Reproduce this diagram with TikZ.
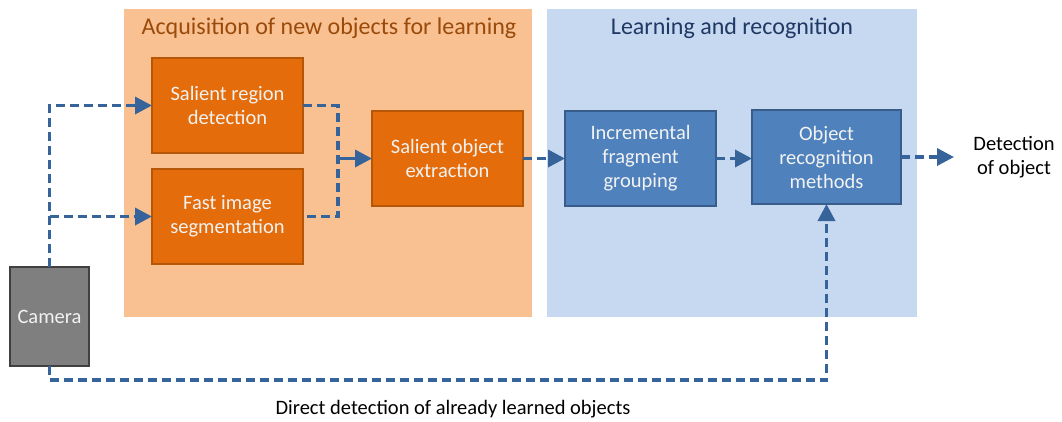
\documentclass[tikz,border=0pt]{standalone}
\usepackage{fontspec}
\setmainfont{Carlito}
\usetikzlibrary{arrows.meta,calc}
\definecolor{panelO}{HTML}{F9C191}
\definecolor{panelB}{HTML}{C6D9F1}
\definecolor{boxO}{HTML}{E46C0A}
\definecolor{boxOd}{HTML}{B65708}
\definecolor{boxB}{HTML}{4F81BD}
\definecolor{boxBd}{HTML}{385D8A}
\definecolor{arr}{HTML}{36639A}
\definecolor{titO}{HTML}{9A4A0A}
\definecolor{titB}{HTML}{1F3864}
\definecolor{camG}{HTML}{7F7F7F}
\tikzset{
  panel/.style={inner sep=0pt, outer sep=0pt, draw=none, anchor=north west},
  obox/.style={draw=boxOd, fill=boxO, line width=1.2pt, inner sep=0pt, outer sep=0pt,
    text=white!95!black, align=center, font=\fontsize{20.5}{24}\selectfont},
  bbox/.style={draw=boxBd, fill=boxB, line width=1.2pt, inner sep=0pt, outer sep=0pt,
    text=white!95!black, align=center, font=\fontsize{20.5}{24}\selectfont},
  conn/.style={draw=arr, line width=3.5pt, dash pattern=on 9pt off 5pt, line join=miter,
    -{Triangle[length=17pt,width=17pt]}},
  plain/.style={draw=arr, line width=3.5pt, dash pattern=on 9pt off 5pt, line join=miter},
  solidarr/.style={draw=arr, line width=3.5pt, -{Triangle[length=17pt,width=17pt]}},
  lbl/.style={font=\fontsize{20.5}{24}\selectfont, align=center, inner sep=0pt}
}
\begin{document}
\begin{tikzpicture}[x=1pt,y=-1pt]
\useasboundingbox (0,0) rectangle (1062,421);
% panels
\node[panel, fill=panelO, minimum width=408pt, minimum height=308pt] (pO) at (124,9) {};
\node[panel, fill=panelB, minimum width=370pt, minimum height=308pt] (pB) at (547,9) {};
\node[lbl, text=titO, font=\fontsize{24}{28}\selectfont] (tO) at (329,28) {Acquisition of new objects for learning};
\node[lbl, text=titB, font=\fontsize{24}{28}\selectfont] (tB) at (732,28) {Learning and recognition};
% boxes
\node[obox, minimum width=151pt, minimum height=95pt] (srd) at (227.5,105.5) {Salient region\\detection};
\node[obox, minimum width=151pt, minimum height=95pt] (fis) at (227.5,216.5) {Fast image\\segmentation};
\node[obox, minimum width=151pt, minimum height=95pt] (soe) at (447.5,158.5) {Salient object\\extraction};
\node[bbox, minimum width=151pt, minimum height=95pt] (ifg) at (640.5,158.5) {Incremental\\fragment\\grouping};
\node[bbox, minimum width=149pt, minimum height=94pt] (orm) at (826.5,157) {Object\\recognition\\methods};
\node[draw=black!75, fill=camG, line width=1.5pt, minimum width=79pt, minimum height=99pt,
  inner sep=0pt, outer sep=0pt, text=white!95!black, font=\fontsize{20.5}{24}\selectfont] (cam) at (49.5,316.5) {Camera};
\node[lbl, text=black] (det) at (1014,157) {Detection\\of object};
\node[lbl, text=black, font=\fontsize{20.5}{24}\selectfont] (dd) at (453,409) {Direct detection of already learned objects};
% coordinates
\coordinate (jx) at (338,0);
\coordinate (by) at (0,380);
\coordinate (dend) at (954,157);
% connectors
\draw[conn] (cam.north) |- (srd.west);
\draw[conn] (cam.north |- fis.west) -- (fis.west);
\draw[plain] (srd.east) -| (jx |- fis.east) -- (fis.east);
\draw[solidarr] (jx |- soe.west) -- (soe.west);
\draw[conn] (soe.east) -- (ifg.west);
\draw[conn] (ifg.east) -- (ifg.east -| orm.west);
\draw[conn] (orm.east) -- (dend);
\draw[conn] (cam.south) -- (cam.south |- by) -| (orm.south);
\end{tikzpicture}
\end{document}
